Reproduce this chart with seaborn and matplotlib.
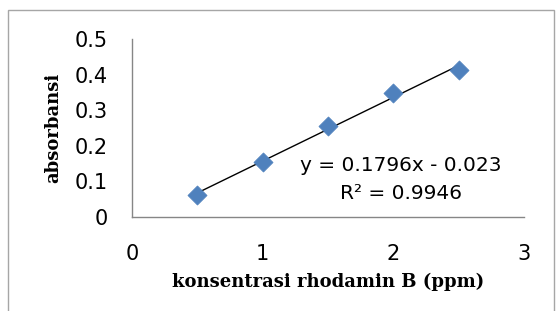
import numpy as np
import pandas as pd
import matplotlib
matplotlib.use("Agg")
import matplotlib.pyplot as plt
from matplotlib.patches import Rectangle
from matplotlib.ticker import FuncFormatter
import seaborn as sns

# data
konsentrasi = [0.5, 1.0, 1.5, 2.0, 2.5]
absorbansi = [0.062, 0.154, 0.257, 0.347, 0.413]
persamaan = "y = 0.1796x - 0.023"
r_kuadrat = "R² = 0.9946"
x_ticks = [0, 1, 2, 3]
y_ticks = [0, 0.1, 0.2, 0.3, 0.4, 0.5]

df = pd.DataFrame({"konsentrasi": konsentrasi, "absorbansi": absorbansi})

sns.set_style("white")
plt.rcParams['font.family'] = ['DejaVu Sans']
plt.rcParams['text.color'] = 'black'
plt.rcParams['axes.labelcolor'] = 'black'

fig = plt.figure(figsize=(5.56, 3.11), dpi=100)
W, H = 556, 311
ax = fig.add_axes([132 / W, 1 - 217 / H, (524 - 132) / W, (217 - 39) / H])

# outer chart border like the excel chart area
fig.patches.append(Rectangle((8 / W, -0.05), (554 - 8) / W, 1.05 - 10 / H,
                             transform=fig.transFigure, fill=False,
                             edgecolor='#a6a6a6', linewidth=1.0))

sns.regplot(data=df, x="konsentrasi", y="absorbansi", ax=ax, scatter=False,
            ci=None, truncate=True, line_kws={'color': 'black', 'linewidth': 1.0})
sns.scatterplot(data=df, x="konsentrasi", y="absorbansi", ax=ax, marker='D',
                s=95, color='#4f81bd', edgecolor='#4f81bd', linewidth=0.5, zorder=3)

ax.set_xlim(0, 3)
ax.set_ylim(0, 0.5)
ax.set_xticks(x_ticks)
ax.set_yticks(y_ticks)
fmt = FuncFormatter(lambda v, p: '%g' % v)
ax.xaxis.set_major_formatter(fmt)
ax.yaxis.set_major_formatter(fmt)

for s in ['top', 'right']:
    ax.spines[s].set_visible(False)
for s in ['left', 'bottom']:
    ax.spines[s].set_color('#868686')
    ax.spines[s].set_linewidth(1.0)
ax.tick_params(axis='both', which='major', direction='out', length=5.5, width=1.0,
               color='#868686', labelsize=15, labelcolor='black')
ax.tick_params(axis='y', pad=12)
ax.tick_params(axis='x', pad=14)

ax.set_xlabel("konsentrasi rhodamin B (ppm)", family='DejaVu Serif',
              fontweight='bold', fontsize=13, labelpad=6, color='black')
ax.set_ylabel("absorbansi", family='DejaVu Serif', fontweight='bold',
              fontsize=13, labelpad=9, color='black')

ax.text(2.06, 0.146, persamaan, ha='center', va='center', fontsize=14.5, color='black')
ax.text(2.06, 0.067, r_kuadrat, ha='center', va='center', fontsize=14.5, color='black')

fig.savefig("out.png", dpi=100)
